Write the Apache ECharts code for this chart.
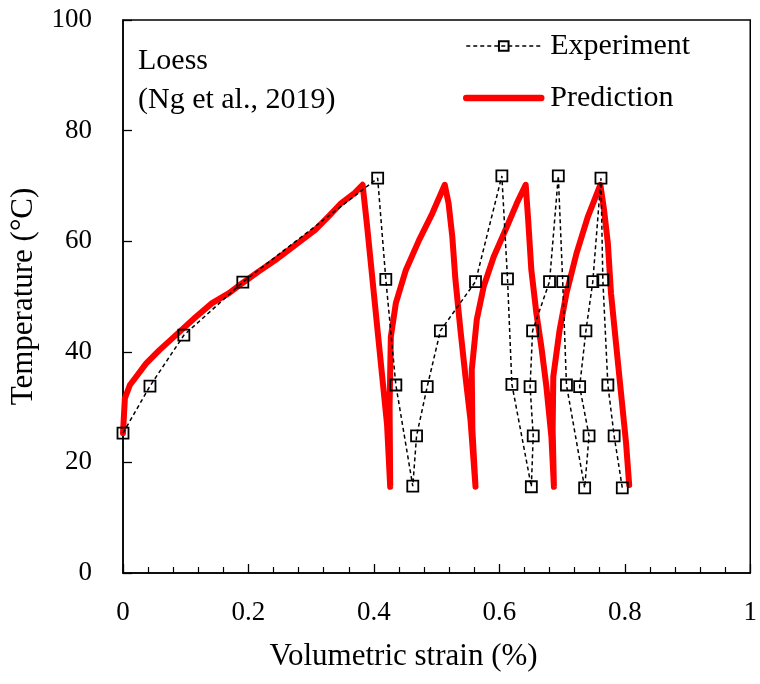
<!DOCTYPE html>
<html>
<head>
<meta charset="utf-8">
<script src="https://cdn.jsdelivr.net/npm/echarts@6/dist/echarts.min.js"></script>
<style>
html,body{margin:0;padding:0;background:#fff;}
#chart{width:760px;height:684px;}
</style>
</head>
<body>
<div id="chart"></div>
<script>
// ---- data ----
const expStrain = [0, 0.043, 0.097, 0.191, 0.406, 0.419, 0.435, 0.462, 0.468, 0.485, 0.506, 0.562, 0.604, 0.613, 0.620, 0.651, 0.654, 0.649, 0.653, 0.680, 0.694, 0.701, 0.707, 0.736, 0.743, 0.728, 0.738, 0.749, 0.762, 0.765, 0.773, 0.783, 0.796];
const expTemp = [25.3, 33.8, 43.0, 52.6, 71.4, 53.1, 34.0, 15.7, 24.8, 33.7, 43.8, 52.7, 71.8, 53.2, 34.1, 15.6, 24.8, 33.7, 43.8, 52.7, 71.8, 52.7, 34.0, 15.4, 24.8, 33.7, 43.8, 52.7, 71.4, 53.0, 34.0, 24.8, 15.4];

const predStrain = [0, 0.003, 0.011, 0.021, 0.037, 0.058, 0.090, 0.116, 0.142, 0.169, 0.190, 0.216, 0.243, 0.264, 0.285, 0.306, 0.327, 0.348, 0.369, 0.382,
  0.389, 0.397, 0.405, 0.413, 0.421, 0.426,
  0.425, 0.427, 0.435, 0.451, 0.472, 0.493, 0.513,
  0.519, 0.525, 0.530, 0.538, 0.546, 0.554, 0.562,
  0.557, 0.556, 0.564, 0.575, 0.591, 0.612, 0.628, 0.642,
  0.646, 0.651, 0.659, 0.667, 0.675, 0.683, 0.687,
  0.685, 0.686, 0.696, 0.707, 0.723, 0.741, 0.761,
  0.767, 0.773, 0.778, 0.786, 0.794, 0.802, 0.807];
const predTemp = [25.3, 31.6, 34.0, 35.5, 37.9, 40.3, 43.6, 46.3, 48.8, 50.6, 52.4, 54.5, 56.6, 58.4, 60.2, 62.0, 64.4, 66.9, 68.7, 70.2,
  62.9, 53.9, 44.8, 35.8, 26.8, 15.6,
  30.0, 42.7, 48.8, 54.8, 60.2, 65.0, 70.2,
  66.9, 60.8, 53.0, 43.9, 35.5, 27.7, 15.6,
  25.9, 36.7, 45.8, 51.8, 57.2, 62.6, 66.9, 70.2,
  63.8, 54.8, 47.0, 40.9, 33.7, 24.6, 15.6,
  25.9, 35.5, 43.9, 50.6, 57.8, 64.4, 70.2,
  65.6, 59.6, 50.6, 41.5, 32.5, 23.5, 15.9];

const xTicks = [0, 0.2, 0.4, 0.6, 0.8, 1];
const yTicks = [0, 20, 40, 60, 80, 100];
const seriesNames = ['Experiment', 'Prediction'];
const xTitle = 'Volumetric strain (%)';
const yTitle = 'Temperature (°C)';
const noteLines = ['Loess', '(Ng et al., 2019)'];

const FONT = '"Liberation Serif", "Times New Roman", serif';
const zip = (a, b) => a.map((v, i) => [v, b[i]]);

const chart = echarts.init(document.getElementById('chart'));
chart.setOption({
  animation: false,
  backgroundColor: '#fff',
  grid: {left: 120, right: 8, top: 20, bottom: 111, show: true, borderColor: '#000', borderWidth: 1.5, backgroundColor: 'transparent'},
  xAxis: {
    type: 'value', min: xTicks[0], max: xTicks[xTicks.length - 1], interval: 0.2,
    name: xTitle, nameLocation: 'middle', nameGap: 68,
    nameTextStyle: {fontFamily: FONT, fontSize: 31, color: '#000', padding: [0, 66, 0, 0]},
    axisLine: {show: true, onZero: false, lineStyle: {color: '#000', width: 1.5}},
    axisTick: {show: true, inside: true, length: 9, lineStyle: {color: '#000', width: 1.3}},
    minorTick: {show: true, splitNumber: 5, length: 6, lineStyle: {color: '#000', width: 1.2}},
    splitLine: {show: false}, minorSplitLine: {show: false},
    axisLabel: {fontFamily: FONT, fontSize: 27, color: '#000', margin: 26,
      formatter: v => xTicks.includes(+v.toFixed(2)) ? String(+v.toFixed(2)) : ''}
  },
  yAxis: {
    type: 'value', min: yTicks[0], max: yTicks[yTicks.length - 1], interval: 20,
    name: yTitle, nameLocation: 'middle', nameGap: 84, nameRotate: 90,
    nameTextStyle: {fontFamily: FONT, fontSize: 31, color: '#000'},
    axisLine: {show: true, onZero: false, lineStyle: {color: '#000', width: 1.5}},
    axisTick: {show: true, inside: true, length: 9, lineStyle: {color: '#000', width: 1.3}},
    splitLine: {show: false},
    axisLabel: {fontFamily: FONT, fontSize: 27, color: '#000', margin: 31}
  },
  legend: {
    orient: 'vertical', left: 458, top: 26, itemWidth: 75, itemHeight: 12, itemGap: 22,
    data: [
      {name: seriesNames[0], lineStyle: {width: 1.6}},
      {name: seriesNames[1], itemStyle: {color: 'rgba(0,0,0,0)', borderWidth: 0, opacity: 0}, lineStyle: {width: 6.5, cap: 'round'}}
    ],
    textStyle: {fontFamily: FONT, fontSize: 30, color: '#000', padding: [0, 0, 0, 4]},
    inactiveColor: '#000'
  },
  graphic: [
    {type: 'text', left: 138, top: 46, style: {text: noteLines[0], font: '30px ' + FONT, fill: '#000'}},
    {type: 'text', left: 138, top: 85, style: {text: noteLines[1], font: '30px ' + FONT, fill: '#000'}}
  ],
  series: [
    {
      name: seriesNames[1], type: 'line', data: zip(predStrain, predTemp),
      symbol: 'none', z: 2,
      lineStyle: {color: '#ff0000', width: 6, cap: 'round', join: 'round'},
      itemStyle: {color: '#ff0000'}
    },
    {
      name: seriesNames[0], type: 'line', data: zip(expStrain, expTemp),
      symbol: 'rect', symbolSize: 11, showAllSymbol: true, z: 3,
      lineStyle: {color: '#000', width: 1.5, type: [4, 3]},
      itemStyle: {color: 'rgba(255,255,255,0)', borderColor: '#000', borderWidth: 1.8}
    }
  ]
});
</script>
</body>
</html>
